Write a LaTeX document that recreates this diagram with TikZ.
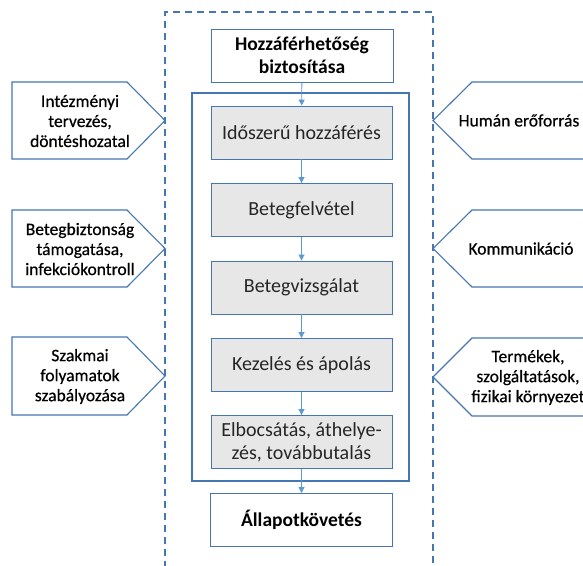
\documentclass[tikz,border=0pt]{standalone}
\usepackage{fontspec}
\setmainfont{Carlito}
\newfontface\sidefont{Carlito}[FakeBold=0.5]
\usetikzlibrary{arrows.meta}
\definecolor{frameblue}{RGB}{70,118,178}
\definecolor{linkblue}{RGB}{91,155,213}
\definecolor{boxgray}{RGB}{231,231,231}
\definecolor{graytext}{RGB}{38,38,38}
\tikzset{
  x=1pt, y=-1pt,
  whitebox/.style={draw=frameblue, line width=1pt, fill=white, minimum width=182pt,
    minimum height=53pt, align=center, font=\fontsize{19.5}{23}\selectfont\bfseries},
  graybox/.style={draw=frameblue, line width=0.9pt, fill=boxgray, minimum width=181pt,
    minimum height=53pt, align=center, text=graytext, font=\fontsize{20}{23}\selectfont},
  sidetext/.style={align=center, inner sep=0pt, font=\sidefont\fontsize{17.5}{20}\selectfont},
  sideshape/.style={draw=frameblue, line width=1.1pt, fill=white, line join=miter},
  flow/.style={draw=linkblue, line width=0.9pt, -{Triangle[width=6pt,length=6pt]}},
}
\begin{document}
\begin{tikzpicture}
\useasboundingbox (0,0) rectangle (583,565);
\clip (0,0) rectangle (583,565);

% dashed frame around the care process (open at the bottom)
\draw[frameblue, line width=1.6pt, dash pattern=on 7pt off 5pt]
  (165,580) -- (165,12) -- (433,12) -- (433,580);

% care process frame
\draw[frameblue, line width=2pt] (192,93) rectangle (409,481);

% boxes along the patient path
\node[whitebox] (access) at (302,55.5) {Hozzáférhetőség\\biztosítása};
\node[graybox] (timely) at (301.5,132.5) {Időszerű hozzáférés};
\node[graybox] (admit)  at (301.5,210)   {Betegfelvétel};
\node[graybox] (exam)   at (301.5,287.5) {Betegvizsgálat};
\node[graybox] (treat)  at (301.5,365)   {Kezelés és ápolás};
\node[graybox] (leave)  at (301.5,442)   {Elbocsátás, áthelye-\\zés, továbbutalás};
\node[whitebox] (follow) at (301.5,520)  {Állapotkövetés};

\draw[flow] (access) -- (timely);
\draw[flow] (timely) -- (admit);
\draw[flow] (admit) -- (exam);
\draw[flow] (exam) -- (treat);
\draw[flow] (treat) -- (leave);
\draw[flow] (leave) -- (follow);

% left-hand factors, pointing right
\draw[sideshape] (12,82) -- (127,82) -- (165,120.5) -- (127,159) -- (12,159) -- cycle;
\draw[sideshape] (12,210) -- (127,210) -- (165,248.5) -- (127,287) -- (12,287) -- cycle;
\draw[sideshape] (12,337) -- (127,337) -- (165,376) -- (127,415) -- (12,415) -- cycle;
\node[sidetext] (plan)   at (80,121) {Intézményi\\tervezés,\\döntéshozatal};
\node[sidetext] (safety) at (80,249) {Betegbiztonság\\támogatása,\\infekciókontroll};
\node[sidetext] (rules)  at (80,376.5) {Szakmai\\folyamatok\\szabályozása};

% right-hand factors, pointing left
\draw[sideshape] (433,120.5) -- (472,82) -- (600,82) -- (600,159) -- (472,159) -- cycle;
\draw[sideshape] (433,248.5) -- (472,210) -- (600,210) -- (600,287) -- (472,287) -- cycle;
\draw[sideshape] (433,377) -- (472,338) -- (600,338) -- (600,416) -- (472,416) -- cycle;
\node[sidetext] (staff)   at (519,120.5) {Humán erőforrás};
\node[sidetext] (comm)    at (521,248.5) {Kommunikáció};
\node[sidetext] (product) at (528,377.5) {Termékek,\\szolgáltatások,\\fizikai környezet};
\end{tikzpicture}
\end{document}
